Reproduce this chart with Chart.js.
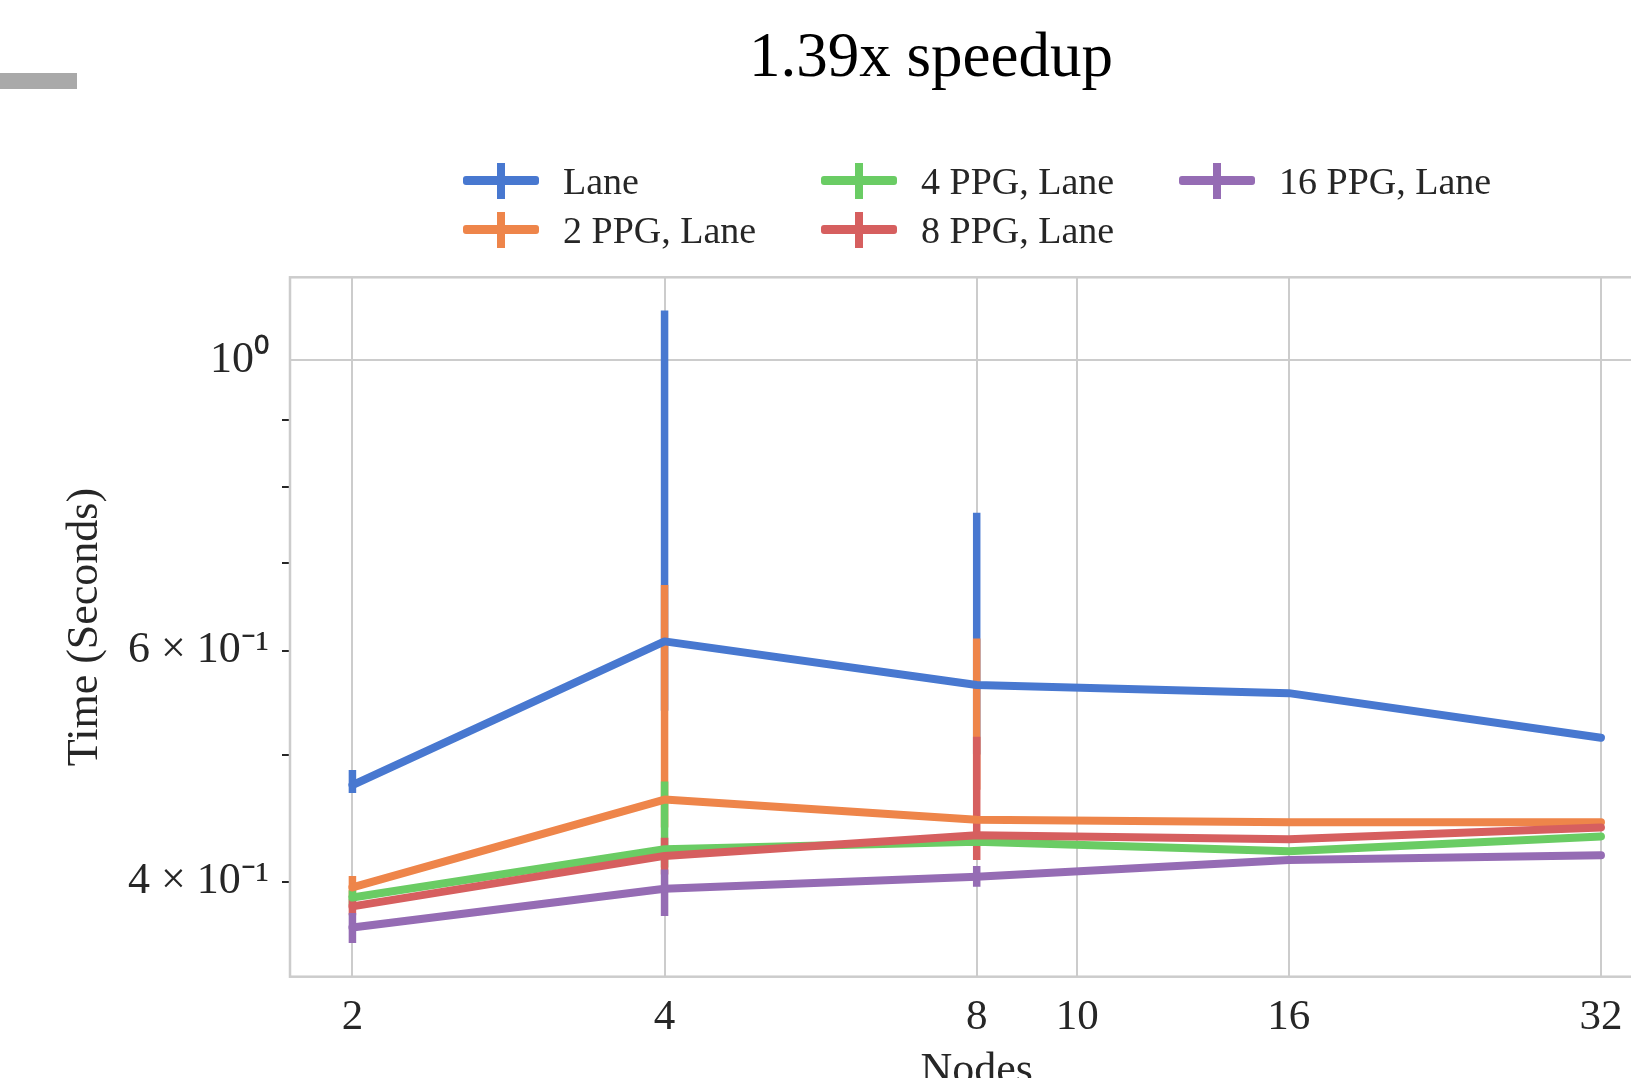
<!DOCTYPE html>
<html>
<head>
<meta charset="utf-8">
<title>1.39x speedup</title>
<script src="https://cdn.jsdelivr.net/npm/chart.js@4.4.1/dist/chart.umd.min.js"></script>
<style>
    html, body { margin: 0; padding: 0; background: #fff; overflow: hidden; }
    body { width: 1631px; height: 1078px; position: relative; font-family: "Liberation Serif", serif; }
    #slideBar { position: absolute; left: 0; top: 73px; width: 77px; height: 16px; background: #a9a9a9; }
    #slideTitle { position: absolute; left: 931px; top: 24px; transform: translateX(-50%);
        font-size: 63px; line-height: 1; white-space: nowrap; color: #000; }
    #chartBox { position: absolute; left: 0; top: 0; width: 1700px; height: 1100px; }
    #legend { position: absolute; left: 463px; top: 156px; display: grid; grid-auto-flow: column;
        grid-template-rows: 49px 49px; grid-template-columns: 358px 358px 358px;
        font-size: 38px; color: #262626; }
    .item { display: flex; align-items: center; white-space: nowrap; line-height: 1; }
    .mark { position: relative; width: 76px; height: 36px; margin-right: 24px; flex: none; }
    .mark .h { position: absolute; left: 0; right: 0; top: 13.5px; height: 9px; border-radius: 3px; }
    .mark .v { position: absolute; left: 34px; width: 8px; top: 0; bottom: 0; }
</style>
</head>
<body>
<div id="slideBar"></div>
<div id="slideTitle">1.39x speedup</div>
<div id="chartBox"><canvas id="speedupChart" width="1700" height="1100"></canvas></div>
<div id="legend"></div>

<script>
// --- data ---
const nodes = [2, 4, 8, 16, 32];
const seriesNames = ["Lane", "2 PPG, Lane", "4 PPG, Lane", "8 PPG, Lane", "16 PPG, Lane"];

const laneTime  = [0.474, 0.610, 0.565, 0.557, 0.515];
const ppg2Time  = [0.396, 0.462, 0.446, 0.444, 0.444];
const ppg4Time  = [0.389, 0.4235, 0.429, 0.422, 0.433];
const ppg8Time  = [0.383, 0.4185, 0.434, 0.431, 0.440];
const ppg16Time = [0.369, 0.395, 0.4035, 0.4155, 0.419];

// error bar ends (null = no visible bar)
const laneLow   = [0.4675, 0.54, 0.50, null, null];
const laneHigh  = [0.4866, 1.091, 0.7647, null, null];
const ppg2Low   = [0.389, 0.44, 0.47, null, null];
const ppg2High  = [0.404, 0.6735, 0.613, null, null];
const ppg4Low   = [0.384, 0.41, 0.426, null, null];
const ppg4High  = [0.394, 0.477, 0.432, null, null];
const ppg8Low   = [0.377, 0.405, 0.4155, null, null];
const ppg8High  = [0.388, 0.432, 0.516, null, null];
const ppg16Low  = [0.3591, 0.3766, 0.3965, null, null];
const ppg16High = [0.3785, 0.4087, 0.4111, null, null];

const xTicks = [2, 4, 8, 10, 16, 32];
const yTicks = [0.4, 0.5, 0.6, 0.7, 0.8, 0.9, 1];
const yTickLabels = ["4 × 10⁻¹", "", "6 × 10⁻¹", "", "", "", "10⁰"];

const seriesColors = ["#4878d0", "#ee854a", "#6acc64", "#d65f5f", "#956cb4"];
const seriesTimes = [laneTime, ppg2Time, ppg4Time, ppg8Time, ppg16Time];
const seriesLow = [laneLow, ppg2Low, ppg4Low, ppg8Low, ppg16Low];
const seriesHigh = [laneHigh, ppg2High, ppg4High, ppg8High, ppg16High];

const textColor = "#262626";
const gridColor = "#cccccc";

// frame + error bars, drawn under the lines
const frameAndErrorBars = {
    id: "frameAndErrorBars",
    beforeDatasetsDraw(chart) {
        const { ctx, chartArea: a, scales: { x, y } } = chart;
        ctx.save();
        ctx.strokeStyle = gridColor;
        ctx.lineWidth = 2.5;
        ctx.strokeRect(a.left, a.top, a.right - a.left, a.bottom - a.top);

        ctx.beginPath();
        ctx.rect(a.left, a.top, a.right - a.left, a.bottom - a.top);
        ctx.clip();
        ctx.lineWidth = 7.5;
        ctx.lineCap = "butt";
        seriesNames.forEach((name, i) => {
            ctx.strokeStyle = seriesColors[i];
            nodes.forEach((n, j) => {
                const lo = seriesLow[i][j];
                const hi = seriesHigh[i][j];
                if (lo == null || hi == null) return;
                const px = x.getPixelForValue(n);
                ctx.beginPath();
                ctx.moveTo(px, y.getPixelForValue(lo));
                ctx.lineTo(px, y.getPixelForValue(hi));
                ctx.stroke();
            });
        });
        ctx.restore();
    }
};

const datasets = seriesNames.map((name, i) => ({
    label: name,
    data: nodes.map((n, j) => ({ x: n, y: seriesTimes[i][j] })),
    borderColor: seriesColors[i],
    backgroundColor: seriesColors[i],
    borderWidth: 8,
    borderCapStyle: "round",
    borderJoinStyle: "round",
    pointRadius: 0,
    tension: 0,
    fill: false,
    order: seriesNames.length - i   // first series drawn first (underneath)
}));

Chart.defaults.font.family = "'Liberation Serif', serif";
Chart.defaults.color = textColor;

new Chart(document.getElementById("speedupChart"), {
    type: "line",
    data: { datasets },
    plugins: [frameAndErrorBars],
    options: {
        responsive: false,
        animation: false,
        devicePixelRatio: 1,
        layout: { padding: { left: 0, top: 277.3, right: 36.6, bottom: 0 } },
        plugins: {
            legend: { display: false },
            tooltip: { enabled: false }
        },
        scales: {
            x: {
                type: "logarithmic",
                min: Math.pow(2, 0.8),
                max: Math.pow(2, 5.2),
                afterBuildTicks: (scale) => { scale.ticks = xTicks.map(v => ({ value: v })); },
                afterFit: (scale) => { scale.height = 123.3; },
                border: { display: false },
                grid: { color: gridColor, lineWidth: 2, drawTicks: false },
                ticks: {
                    autoSkip: false,
                    maxRotation: 0,
                    padding: 15,
                    font: { size: 43 },
                    color: textColor,
                    callback: (value) => String(value)
                },
                title: {
                    display: true,
                    text: "Nodes",
                    font: { size: 44 },
                    color: textColor,
                    padding: { top: 0, bottom: 2 }
                }
            },
            y: {
                type: "logarithmic",
                min: 0.3385,
                max: 1.1563,
                afterBuildTicks: (scale) => { scale.ticks = yTicks.map(v => ({ value: v })); },
                afterFit: (scale) => { scale.width = 290; },
                border: { display: false },
                grid: {
                    lineWidth: 2,
                    color: (c) => (c.tick && c.tick.value === 1 ? gridColor : "rgba(0,0,0,0)"),
                    drawTicks: true,
                    tickLength: 8,
                    tickWidth: 2,
                    tickColor: (c) => (c.tick && c.tick.value === 1 ? "rgba(0,0,0,0)" : textColor)
                },
                ticks: {
                    autoSkip: false,
                    padding: 13,
                    font: { size: 44 },
                    color: textColor,
                    callback: (value) => {
                        const k = yTicks.indexOf(value);
                        return k >= 0 ? yTickLabels[k] : "";
                    }
                },
                title: {
                    display: true,
                    text: "Time (Seconds)",
                    font: { size: 44 },
                    color: textColor,
                    padding: { top: 58.6, bottom: 0 }
                }
            }
        }
    }
});

// legend: 3 columns, filled column by column
const legend = document.getElementById("legend");
seriesNames.forEach((name, i) => {
    const item = document.createElement("div");
    item.className = "item";
    const mark = document.createElement("div");
    mark.className = "mark";
    const h = document.createElement("div");
    h.className = "h";
    h.style.background = seriesColors[i];
    const v = document.createElement("div");
    v.className = "v";
    v.style.background = seriesColors[i];
    mark.appendChild(h);
    mark.appendChild(v);
    const label = document.createElement("span");
    label.textContent = name;
    item.appendChild(mark);
    item.appendChild(label);
    legend.appendChild(item);
});
</script>
</body>
</html>
